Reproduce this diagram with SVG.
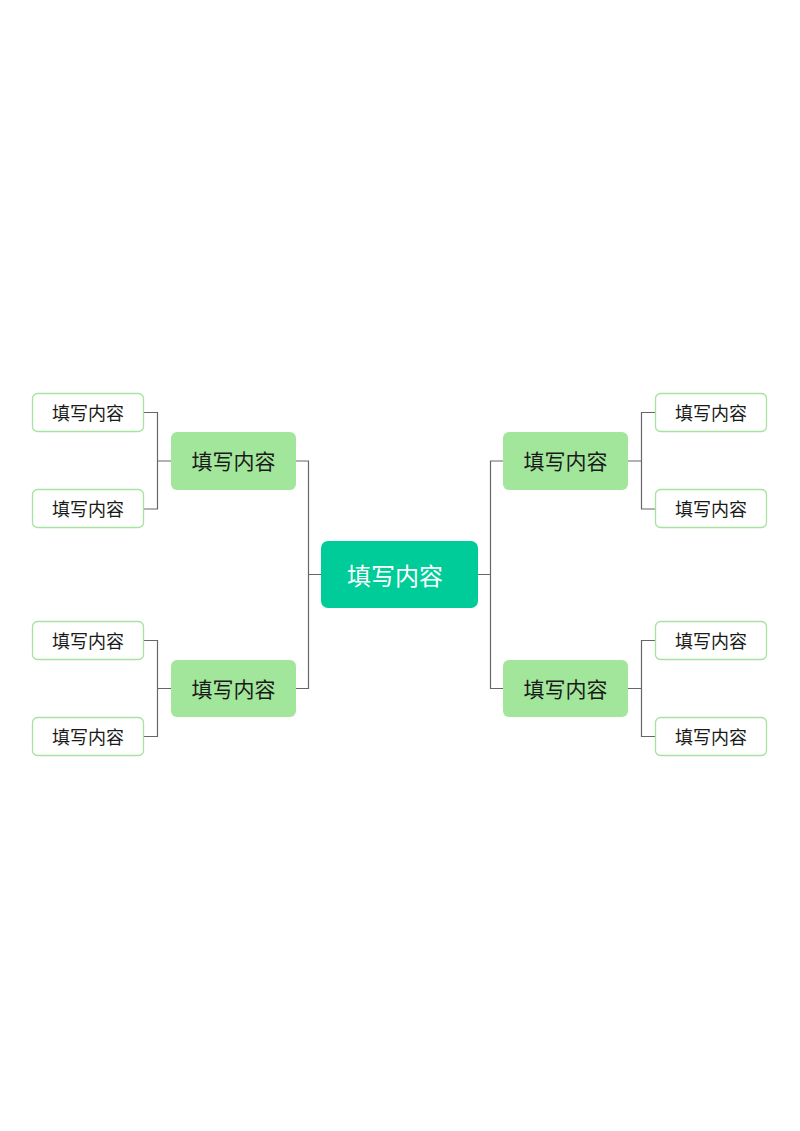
<svg xmlns="http://www.w3.org/2000/svg" width="800" height="1131" viewBox="0 0 800 1131">
<style>
text{font-family:"Noto Sans CJK SC","Noto Sans",sans-serif;text-anchor:middle;dominant-baseline:central}
.leaf rect{fill:#fff;stroke:#a6e3a0;stroke-width:1.3}
.leaf text{font-size:18px;fill:#1a1a1a}
.mid rect{fill:#a2e69b}
.mid text{font-size:21px;fill:#1a1a1a}
.root rect{fill:#00cc99}
.root text{font-size:24px;fill:#fff}
.conn path{fill:none;stroke:#666;stroke-width:1.2}
</style>
<rect width="800" height="1131" fill="#fff"/>
<g class="conn">
<path d="M143 412.5H157.5V509H143M157.5 461H171"/>
<path d="M143 640.5H157.5V736.5H143M157.5 688.5H171"/>
<path d="M296 461H308.5V688.5H296M308.5 574.5H321"/>
<path d="M503 461H490.5V688.5H503M490.5 574.5H478"/>
<path d="M655.5 412.5H641.5V509H655.5M641.5 461H628"/>
<path d="M655.5 640.5H641.5V736.5H655.5M641.5 688.5H628"/>
</g>
<g id="root" class="root"><rect x="321" y="541" width="157" height="67" rx="7"/><text x="395" y="574">填写内容</text></g>
<g id="midL1" class="mid"><rect x="171" y="432" width="125" height="58" rx="6"/><text x="233.5" y="460">填写内容</text></g>
<g id="midL2" class="mid"><rect x="171" y="660" width="125" height="57" rx="6"/><text x="233.5" y="687.5">填写内容</text></g>
<g id="midR1" class="mid"><rect x="503" y="432" width="125" height="58" rx="6"/><text x="565.5" y="460">填写内容</text></g>
<g id="midR2" class="mid"><rect x="503" y="660" width="125" height="57" rx="6"/><text x="565.5" y="687.5">填写内容</text></g>
<g id="leafL1" class="leaf"><rect x="32.5" y="393.5" width="111" height="38" rx="5"/><text x="88" y="411.5">填写内容</text></g>
<g id="leafL2" class="leaf"><rect x="32.5" y="489.5" width="111" height="38" rx="5"/><text x="88" y="507.5">填写内容</text></g>
<g id="leafL3" class="leaf"><rect x="32.5" y="621.5" width="111" height="38" rx="5"/><text x="88" y="639.5">填写内容</text></g>
<g id="leafL4" class="leaf"><rect x="32.5" y="717.5" width="111" height="38" rx="5"/><text x="88" y="735.5">填写内容</text></g>
<g id="leafR1" class="leaf"><rect x="655.5" y="393.5" width="111" height="38" rx="5"/><text x="711" y="411.5">填写内容</text></g>
<g id="leafR2" class="leaf"><rect x="655.5" y="489.5" width="111" height="38" rx="5"/><text x="711" y="507.5">填写内容</text></g>
<g id="leafR3" class="leaf"><rect x="655.5" y="621.5" width="111" height="38" rx="5"/><text x="711" y="639.5">填写内容</text></g>
<g id="leafR4" class="leaf"><rect x="655.5" y="717.5" width="111" height="38" rx="5"/><text x="711" y="735.5">填写内容</text></g>
</svg>
